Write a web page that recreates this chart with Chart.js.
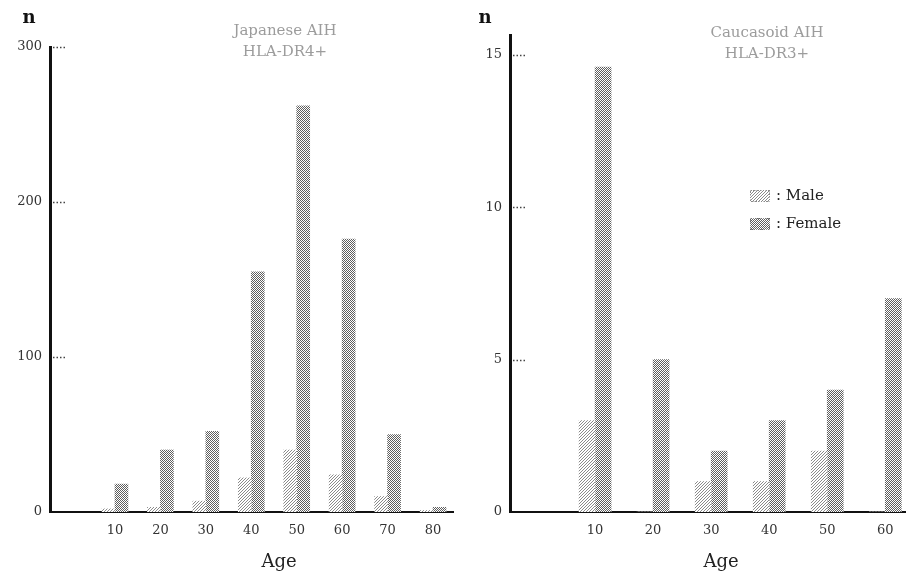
<!DOCTYPE html>
<html><head><meta charset="utf-8">
<script src="https://cdn.jsdelivr.net/npm/chart.js@4"></script>
<style>
html,body{margin:0;padding:0;background:#fff;width:910px;height:577px;overflow:hidden}
.box{position:absolute;top:0;height:577px;width:455px}
#b1{left:0}
#b2{left:455px}
</style></head><body>
<div class="box" id="b1"><canvas id="c1"></canvas></div>
<div class="box" id="b2"><canvas id="c2"></canvas></div>
<script>
// ---- data ----
const agesJP = [10, 20, 30, 40, 50, 60, 70, 80];
const maleJP = [2, 3, 7, 22, 40, 24, 10, 1];
const femaleJP = [18, 40, 52, 155, 262, 176, 50, 3];
const yTicksJP = [0, 100, 200, 300];
const titleJP = ['Japanese AIH', 'HLA-DR4+'];

const agesCA = [10, 20, 30, 40, 50, 60];
const maleCA = [3, 0, 1, 1, 2, 0];
const femaleCA = [14.6, 5, 2, 3, 4, 7];
const yTicksCA = [0, 5, 10, 15];
const titleCA = ['Caucasoid AIH', 'HLA-DR3+'];

const seriesNames = ['Male', 'Female'];
const xAxisName = 'Age';
const yAxisName = 'n';

// ---- stipple patterns ----
function makePattern(kind) {
  const c = document.createElement('canvas');
  const ctx = c.getContext('2d');
  if (kind === 'female') {
    c.width = 2; c.height = 2;
    ctx.fillStyle = '#ffffff'; ctx.fillRect(0, 0, 2, 2);
    ctx.fillStyle = '#5e5e5e';
    ctx.fillRect(0, 0, 1, 1); ctx.fillRect(1, 1, 1, 1);
  } else {
    c.width = 3; c.height = 3;
    ctx.fillStyle = '#ffffff'; ctx.fillRect(0, 0, 3, 3);
    ctx.fillStyle = '#8a8a8a';
    ctx.fillRect(0, 0, 1, 1); ctx.fillRect(2, 1, 1, 1); ctx.fillRect(1, 2, 1, 1);
  }
  return ctx.createPattern(c, 'repeat');
}
const FONT = "'DejaVu Serif', 'Liberation Serif', serif";

const decorPlugin = {
  id: 'decor',
  afterDraw(chart, args, o) {
    const ctx = chart.ctx;
    const ca = chart.chartArea;
    const ys = chart.scales.y;
    ctx.save();
    // inner dotted tick marks
    ctx.strokeStyle = '#444';
    ctx.lineWidth = 1.3;
    ctx.setLineDash([1.5, 2]);
    ys.ticks.forEach(t => {
      const py = Math.round(ys.getPixelForValue(t.value)) + 0.5;
      if (t.value === 0) return;
      ctx.beginPath();
      ctx.moveTo(ca.left + 3, py);
      ctx.lineTo(ca.left + 16, py);
      ctx.stroke();
    });
    ctx.setLineDash([]);
    // y axis name
    ctx.fillStyle = '#111';
    ctx.font = 'bold 18px ' + FONT;
    ctx.textAlign = 'center';
    ctx.textBaseline = 'middle';
    ctx.fillText(yAxisName, o.nX, o.nY);
    // x axis name
    ctx.font = '18px ' + FONT;
    ctx.fillStyle = '#222';
    ctx.fillText(xAxisName, o.ageX, 562);
    // title
    ctx.font = '15px ' + FONT;
    ctx.fillStyle = '#9c9c9c';
    o.title.forEach((line, i) => ctx.fillText(line, o.titleX, o.titleY + i * 21));
    // legend
    if (o.legend) {
      chart.data.datasets.forEach((ds, i) => {
        const bx = o.legend.x, by = o.legend.y + i * 28;
        ctx.fillStyle = ds.backgroundColor;
        ctx.fillRect(bx, by - 6, 20, 12);
        ctx.strokeStyle = '#888';
        ctx.lineWidth = 1;
        ctx.setLineDash([1, 1.5]);
        ctx.strokeRect(bx + 0.5, by - 5.5, 19, 11);
        ctx.setLineDash([]);
        ctx.fillStyle = '#222';
        ctx.font = '15px ' + FONT;
        ctx.textAlign = 'left';
        ctx.fillText(': ' + ds.label, bx + 26, by);
      });
    }
    ctx.restore();
  }
};

function makeChart(id, ages, male, female, yTicks, cfg) {
  const toPts = arr => ages.map((a, i) => ({ x: a, y: arr[i] }));
  return new Chart(document.getElementById(id), {
    type: 'bar',
    data: {
      datasets: [
        { label: seriesNames[0], data: toPts(male), backgroundColor: makePattern('male'), borderWidth: 0, barThickness: cfg.bar },
        { label: seriesNames[1], data: toPts(female), backgroundColor: makePattern('female'), borderWidth: 0, barThickness: cfg.bar }
      ]
    },
    options: {
      responsive: true,
      maintainAspectRatio: false,
      animation: false,
      layout: { padding: { left: 0, top: cfg.top, right: cfg.right, bottom: 0 } },
      plugins: {
        legend: { display: false },
        tooltip: { enabled: false },
        decor: cfg.decor
      },
      scales: {
        x: {
          type: 'linear',
          offset: false,
          min: cfg.xmin,
          max: cfg.xmax,
          grid: { display: false, drawTicks: false },
          border: { color: '#111', width: 2 },
          ticks: { color: '#333', font: { family: FONT, size: 13 }, padding: 11 },
          afterBuildTicks: s => { s.ticks = ages.map(v => ({ value: v })); },
          afterFit: s => { s.height = 65; }
        },
        y: {
          min: 0,
          max: cfg.ymax,
          grid: { display: false, drawTicks: false },
          border: { color: '#111', width: 3 },
          ticks: { color: '#333', font: { family: FONT, size: 13 }, padding: 8 },
          afterBuildTicks: s => { s.ticks = yTicks.map(v => ({ value: v })); },
          afterFit: s => { s.width = cfg.left; }
        }
      }
    },
    plugins: [decorPlugin]
  });
}

makeChart('c1', agesJP, maleJP, femaleJP, yTicksJP, {
  bar: 13, top: 47, right: 2, left: 50, xmin: -4.3, xmax: 84.4, ymax: 300,
  decor: { nX: 29, nY: 18, ageX: 279, title: titleJP, titleX: 285, titleY: 31 }
});
makeChart('c2', agesCA, maleCA, femaleCA, yTicksCA, {
  bar: 16, top: 35, right: 5, left: 55, xmin: -4.66, xmax: 63.4, ymax: 15.65,
  decor: { nX: 30, nY: 18, ageX: 266, title: titleCA, titleX: 312, titleY: 33,
           legend: { x: 295, y: 196 } }
});
</script>
</body></html>
